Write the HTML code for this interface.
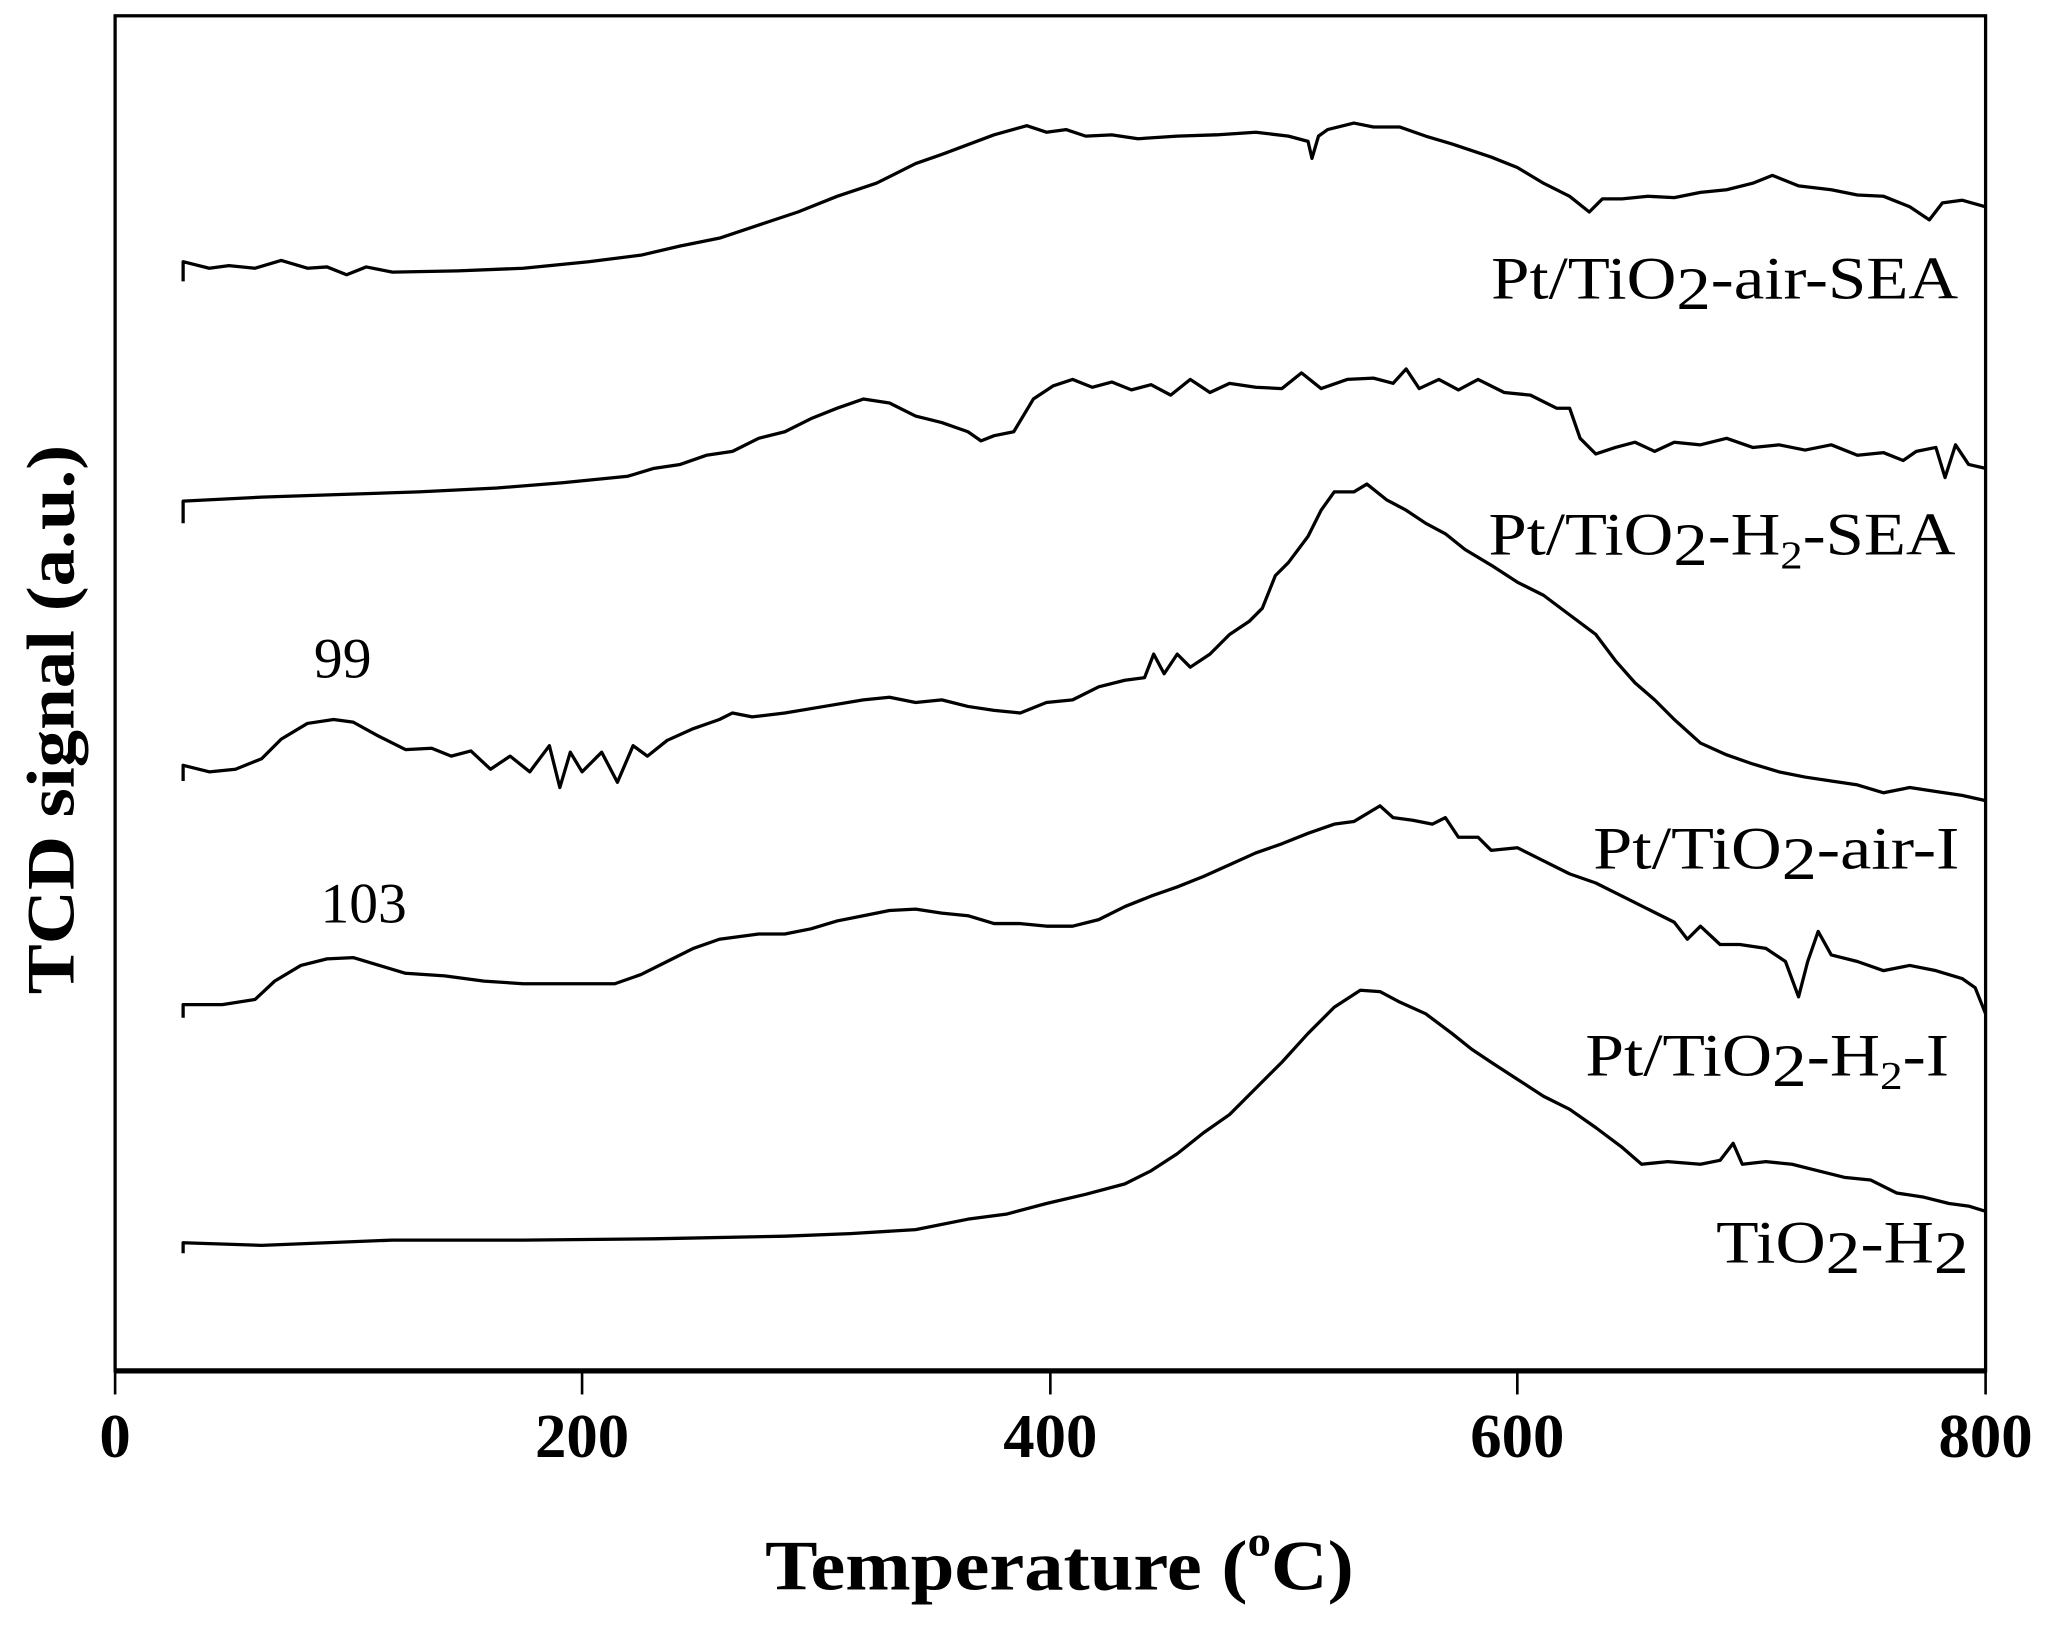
<!DOCTYPE html>
<html><head><style>html,body{margin:0;padding:0;background:#fff}</style></head>
<body>
<svg width="2051" height="1630" viewBox="0 0 1568 1246" xmlns="http://www.w3.org/2000/svg" font-family="'Liberation Serif',serif">
<rect x="0" y="0" width="1568" height="1246" fill="#fff"/>
<rect x="88" y="12" width="1430" height="1036" fill="none" stroke="#000" stroke-width="2.5"/>
<line x1="88" y1="1048" x2="1518" y2="1048" stroke="#000" stroke-width="4"/>
<g stroke="#000" stroke-width="2">
<line x1="88" y1="1048" x2="88" y2="1066"/><line x1="445" y1="1048" x2="445" y2="1066"/><line x1="803" y1="1048" x2="803" y2="1066"/><line x1="1160" y1="1048" x2="1160" y2="1066"/><line x1="1518" y1="1048" x2="1518" y2="1066"/>
</g>
<g font-size="48" font-weight="bold" text-anchor="middle">
<text x="88" y="1114">0</text><text x="445" y="1114">200</text><text x="803" y="1114">400</text><text x="1160" y="1114">600</text><text x="1518" y="1114">800</text>
</g>
<text x="585" y="1215" font-size="54" font-weight="bold" textLength="450" lengthAdjust="spacingAndGlyphs">Temperature (<tspan dy="-26" font-size="32">o</tspan><tspan dy="26">C)</tspan></text>
<text transform="translate(56,550) rotate(-90)" font-size="52" font-weight="bold" text-anchor="middle" textLength="420" lengthAdjust="spacingAndGlyphs">TCD signal (a.u.)</text>
<g fill="none" stroke="#000" stroke-width="2.5" stroke-linejoin="round">
<path d="M140,215 L140,200 L160,205 175,203 195,205 215,199 235,205 250,204 265,210 280,204 300,208 350,207 400,205 450,200 490,195 520,188 550,182 580,172 610,162 640,150 670,140 700,125 720,118 760,103 785,96 800,101 815,99 830,104 850,103 870,106 900,104 930,103 960,101 985,104 1000,108 1003,121 1008,104 1015,99 1035,94 1050,97 1070,97 1090,104 1110,110 1140,120 1160,128 1180,140 1200,150 1215,162 1225,152 1240,152 1260,150 1280,151 1300,147 1320,145 1340,140 1355,134 1375,142 1400,145 1420,149 1440,150 1460,158 1475,168 1485,155 1500,153 1518,158"/>
<path d="M140,400 L140,383 L200,380 260,378 320,376 380,373 430,369 480,364 500,358 520,355 540,348 560,345 580,335 600,330 620,320 640,312 660,305 680,308 700,318 720,323 740,330 750,337 760,333 775,330 790,305 805,295 820,290 835,296 850,292 865,298 880,294 895,302 910,290 925,300 940,293 960,296 980,297 995,285 1010,297 1030,290 1050,289 1065,293 1075,282 1085,297 1100,290 1115,298 1130,290 1150,300 1170,302 1190,312 1200,312 1208,335 1220,347 1235,342 1250,338 1265,345 1280,338 1300,340 1320,335 1340,342 1360,340 1380,344 1400,340 1420,348 1440,346 1455,352 1465,345 1480,342 1487,365 1495,340 1505,355 1518,358"/>
<path d="M140,597 L140,585 L160,590 180,588 200,580 215,565 235,553 255,550 270,552 290,563 310,573 330,572 345,578 360,574 375,588 390,578 405,590 420,570 428,602 436,575 445,590 460,575 472,598 484,570 495,578 510,566 530,557 550,550 560,545 575,548 600,545 630,540 660,535 680,533 700,537 720,535 740,540 760,543 780,545 800,537 820,535 840,525 860,520 875,518 882,500 890,515 900,500 910,510 925,500 940,485 955,475 965,465 975,440 985,430 1000,410 1010,390 1020,376 1035,376 1045,370 1060,382 1075,390 1090,400 1105,408 1120,420 1140,432 1160,445 1180,455 1200,470 1220,485 1235,505 1250,522 1265,535 1280,550 1300,568 1320,577 1340,584 1360,590 1380,594 1400,597 1420,600 1440,606 1460,602 1480,605 1500,608 1518,612"/>
<path d="M140,778 L140,768 L170,768 195,764 210,750 230,738 250,733 270,732 290,738 310,744 340,746 370,750 400,752 440,752 470,752 490,745 510,735 530,725 550,718 580,714 600,714 620,710 640,704 660,700 680,696 700,695 720,698 740,700 760,706 780,706 800,708 820,708 840,703 860,693 880,685 900,678 920,670 940,661 960,652 980,645 1000,637 1020,630 1035,628 1055,616 1065,625 1080,627 1095,630 1105,625 1115,640 1130,640 1140,650 1160,648 1180,658 1200,668 1220,675 1240,685 1260,695 1280,705 1290,718 1300,708 1315,722 1330,722 1350,725 1365,735 1375,762 1382,735 1390,712 1400,730 1420,735 1440,742 1460,738 1480,742 1500,748 1510,755 1518,775"/>
<path d="M140,958 L140,950 L200,952 300,948 400,948 500,947 600,945 650,943 700,940 740,932 770,928 800,920 830,913 860,905 880,895 900,882 920,866 940,852 960,832 980,812 1000,790 1020,770 1040,757 1055,758 1070,766 1090,775 1110,790 1125,802 1140,812 1160,825 1180,838 1200,848 1220,862 1240,877 1255,890 1275,888 1300,890 1315,887 1325,874 1332,890 1350,888 1370,890 1390,895 1410,900 1430,902 1450,912 1470,915 1490,920 1505,922 1518,926"/>
</g>
<g font-size="46">
<text x="1140" y="228" textLength="357" lengthAdjust="spacingAndGlyphs">Pt/TiO<tspan dy="8">2</tspan><tspan dy="-8">-air-SEA</tspan></text>
<text x="1138" y="424" textLength="357" lengthAdjust="spacingAndGlyphs">Pt/TiO<tspan dy="8">2</tspan><tspan dy="-8">-H</tspan><tspan dy="10" font-size="30">2</tspan><tspan dy="-10">-SEA</tspan></text>
<text x="1218" y="664" textLength="280" lengthAdjust="spacingAndGlyphs">Pt/TiO<tspan dy="8">2</tspan><tspan dy="-8">-air-I</tspan></text>
<text x="1212" y="822" textLength="278" lengthAdjust="spacingAndGlyphs">Pt/TiO<tspan dy="8">2</tspan><tspan dy="-8">-H</tspan><tspan dy="10" font-size="30">2</tspan><tspan dy="-10">-I</tspan></text>
<text x="1312" y="965" textLength="193" lengthAdjust="spacingAndGlyphs">TiO<tspan dy="8">2</tspan><tspan dy="-8">-H</tspan><tspan dy="8">2</tspan></text>
</g>
<text x="262" y="518" font-size="44" text-anchor="middle">99</text>
<text x="278" y="705" font-size="44" text-anchor="middle">103</text>
</svg>
</body></html>
